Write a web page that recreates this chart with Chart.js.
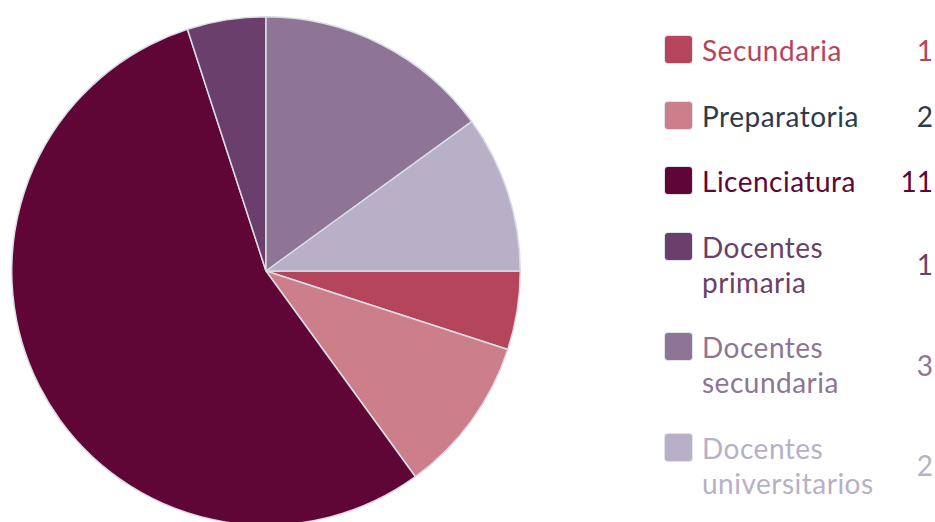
<!DOCTYPE html>
<html>
<head>
<meta charset="utf-8">
<script src="https://cdn.jsdelivr.net/npm/chart.js@4/dist/chart.umd.min.js"></script>
<style>
  html, body { margin: 0; padding: 0; background: #fff; overflow: hidden; }
  body { width: 935px; height: 522px; position: relative; font-family: Lato, "Open Sans", sans-serif; }
  #pieWrap { position: absolute; left: 0; top: 0; width: 540px; height: 542px; }
  #legend { position: absolute; left: 665px; top: 33px; width: 268px; }
  .row { display: flex; align-items: stretch; margin-bottom: 30.5px; }
  .swatch { width: 27px; height: 27px; border-radius: 3px; margin-top: 3px; flex: 0 0 27px;
            box-shadow: 0 0 0 1px rgba(220,224,232,0.9); }
  .label { margin-left: 10px; width: 190px; font-size: 28px; line-height: 35px; letter-spacing: 0.5px; }
  .value { flex: 1; text-align: right; font-size: 28px; line-height: 35px; display: flex;
           align-items: center; justify-content: flex-end; }
</style>
</head>
<body>
<div id="pieWrap"><canvas id="pie"></canvas></div>
<div id="legend"></div>
<script>
// Nivel educativo: categories, counts and palette
const categories = ["Secundaria", "Preparatoria", "Licenciatura", "Docentes primaria", "Docentes secundaria", "Docentes universitarios"];
const legendLines = [["Secundaria"], ["Preparatoria"], ["Licenciatura"], ["Docentes", "primaria"], ["Docentes", "secundaria"], ["Docentes", "universitarios"]];
const counts = [1, 2, 11, 1, 3, 2];
const sliceColors = ["#b5455a", "#cc7e8a", "#600636", "#6a3f6b", "#8e7596", "#b7b0c7"];
const textColors = ["#b5455a", "#2e3b4a", "#600636", "#6a3f6b", "#8e7596", "#b7b0c7"];

new Chart(document.getElementById("pie"), {
  type: "pie",
  data: {
    labels: categories,
    datasets: [{
      data: counts,
      backgroundColor: sliceColors,
      borderColor: "#d9dde6",
      borderWidth: 1.5
    }]
  },
  options: {
    responsive: true,
    maintainAspectRatio: false,
    animation: false,
    rotation: 90,
    layout: { padding: { left: 11, top: 16, right: 19, bottom: 16 } },
    plugins: { legend: { display: false }, tooltip: { enabled: false } }
  }
});

// HTML legend with counts on the right
const legend = document.getElementById("legend");
categories.forEach((c, i) => {
  const row = document.createElement("div");
  row.className = "row";
  const sw = document.createElement("div");
  sw.className = "swatch";
  sw.style.background = sliceColors[i];
  const lab = document.createElement("div");
  lab.className = "label";
  lab.style.color = textColors[i];
  lab.innerHTML = legendLines[i].join("<br>");
  const val = document.createElement("div");
  val.className = "value";
  val.style.color = textColors[i];
  val.textContent = counts[i];
  row.append(sw, lab, val);
  legend.appendChild(row);
});
</script>
</body>
</html>
